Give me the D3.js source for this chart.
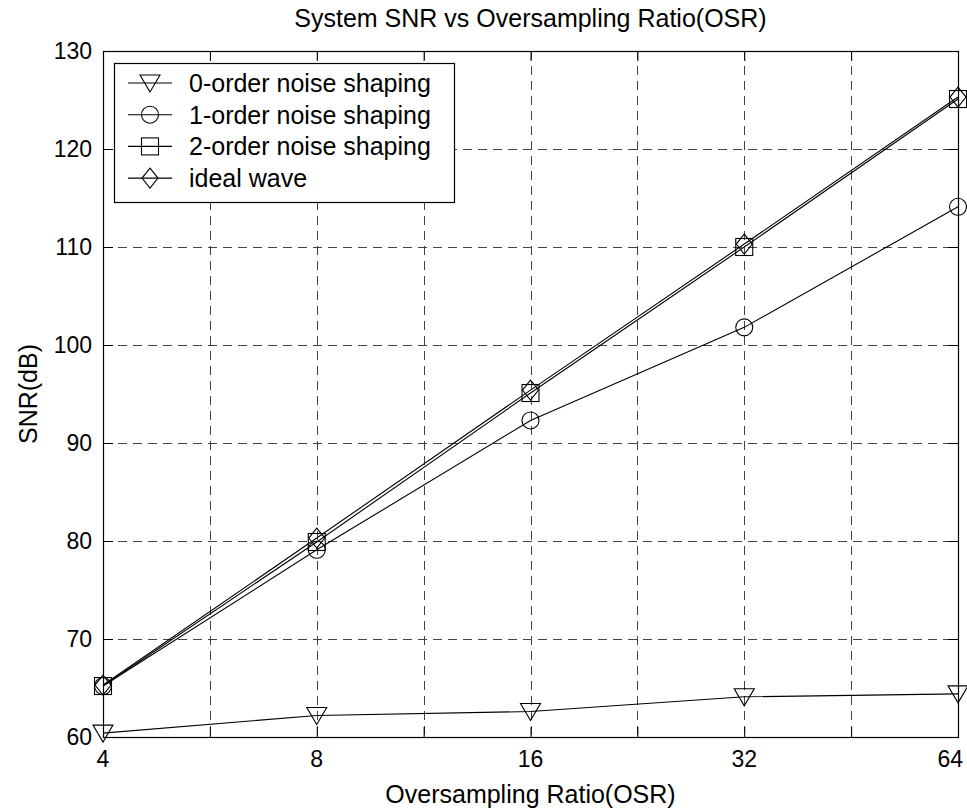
<!DOCTYPE html>
<html>
<head>
<meta charset="utf-8">
<script src="https://cdn.jsdelivr.net/npm/d3@7"></script>
<style>
  body { margin: 0; background: #fff; }
  text { font-family: "Liberation Sans", Arial, sans-serif; fill: #000; }
</style>
</head>
<body>
<div id="chart"></div>
<script>
// data
const osr = [4, 8, 16, 32, 64];
const order0 = [60.4, 62.2, 62.6, 64.1, 64.4];
const order1 = [65.2, 79.1, 92.3, 101.8, 114.1];
const order2 = [65.2, 79.9, 95.1, 110.0, 125.1];
const ideal = [65.3, 80.3, 95.4, 110.3, 125.3];
const yTicks = [60, 70, 80, 90, 100, 110, 120, 130];
const xLabels = [4, 8, 16, 32, 64];

const series = [
  { name: "0-order noise shaping", values: order0, marker: "tri" },
  { name: "1-order noise shaping", values: order1, marker: "circle" },
  { name: "2-order noise shaping", values: order2, marker: "square" },
  { name: "ideal wave", values: ideal, marker: "diamond" }
];

const W = 967, H = 810;
const pLeft = 103, pRight = 958, pTop = 51, pBottom = 737;

const svg = d3.select("#chart").append("svg")
  .attr("width", W).attr("height", H);

const x = d3.scaleLog().base(2).domain([4, 64]).range([pLeft, pRight]);
const y = d3.scaleLinear().domain([60, 130]).range([pBottom, pTop]);

// half-step ticks (4, 5.66, 8, ...)
const xTicks = d3.range(0, 9).map(i => 4 * Math.pow(2, i / 2));

// grid
const grid = svg.append("g")
  .attr("stroke", "#444").attr("stroke-width", 1)
  .attr("stroke-dasharray", "9,6");
grid.selectAll("line.v").data(xTicks.slice(1, -1)).enter().append("line")
  .attr("x1", d => Math.round(x(d)) + 0.5).attr("x2", d => Math.round(x(d)) + 0.5)
  .attr("y1", pTop).attr("y2", pBottom);
grid.selectAll("line.h").data(yTicks.slice(1, -1)).enter().append("line")
  .attr("y1", d => Math.round(y(d)) + 0.5).attr("y2", d => Math.round(y(d)) + 0.5)
  .attr("x1", pLeft).attr("x2", pRight);

// axes with inward ticks on all four sides
const tl = 10;
svg.append("g").attr("transform", `translate(0,${pBottom})`)
  .call(d3.axisTop(x).tickValues(xTicks).tickSize(tl).tickFormat(""))
  .call(g => g.select(".domain").remove());
svg.append("g").attr("transform", `translate(0,${pTop})`)
  .call(d3.axisBottom(x).tickValues(xTicks).tickSize(tl).tickFormat(""))
  .call(g => g.select(".domain").remove());
svg.append("g").attr("transform", `translate(${pLeft},0)`)
  .call(d3.axisRight(y).tickValues(yTicks).tickSize(tl).tickFormat(""))
  .call(g => g.select(".domain").remove());
svg.append("g").attr("transform", `translate(${pRight},0)`)
  .call(d3.axisLeft(y).tickValues(yTicks).tickSize(tl).tickFormat(""))
  .call(g => g.select(".domain").remove());
svg.selectAll(".tick line").attr("stroke", "#000");

// tick labels (last one kept inside the page edge)
svg.selectAll("text.xl").data(xLabels).enter().append("text")
  .attr("x", d => d === 64 ? 963 : x(d)).attr("y", 767)
  .attr("text-anchor", d => d === 64 ? "end" : "middle").attr("font-size", 23)
  .text(d => d);
svg.selectAll("text.yl").data(yTicks).enter().append("text")
  .attr("x", 92).attr("y", d => y(d))
  .attr("text-anchor", "end").attr("dominant-baseline", "central")
  .attr("font-size", 23)
  .text(d => d);

// frame
svg.append("rect")
  .attr("x", pLeft + 0.5).attr("y", pTop + 0.5)
  .attr("width", pRight - pLeft).attr("height", pBottom - pTop)
  .attr("fill", "none").attr("stroke", "#000").attr("stroke-width", 1.2);

// markers
function drawMarker(g, type, cx, cy) {
  if (type === "tri") {
    g.append("path").attr("d", `M${cx - 10},${cy - 8}L${cx + 10},${cy - 8}L${cx},${cy + 9}Z`);
  } else if (type === "circle") {
    g.append("circle").attr("cx", cx).attr("cy", cy).attr("r", 8.5);
  } else if (type === "square") {
    g.append("rect").attr("x", cx - 8.5).attr("y", cy - 8.5).attr("width", 17).attr("height", 17);
  } else {
    g.append("path").attr("d", `M${cx},${cy - 10}L${cx + 8},${cy}L${cx},${cy + 10}L${cx - 8},${cy}Z`);
  }
}

const line = d3.line().x((d, i) => x(osr[i])).y(d => y(d));
series.forEach(s => {
  const g = svg.append("g").attr("fill", "none").attr("stroke", "#000").attr("stroke-width", 1.1);
  g.append("path").attr("d", line(s.values));
  s.values.forEach((v, i) => drawMarker(g, s.marker, x(osr[i]), y(v)));
});

// legend
const lg = svg.append("g");
lg.append("rect").attr("x", 114.5).attr("y", 63.5).attr("width", 340).attr("height", 139)
  .attr("fill", "#fff").attr("stroke", "#000").attr("stroke-width", 1.2);
series.forEach((s, i) => {
  const cy = 83 + i * 31.7;
  const g = lg.append("g").attr("fill", "none").attr("stroke", "#000").attr("stroke-width", 1.1);
  g.append("line").attr("x1", 128).attr("x2", 172).attr("y1", cy).attr("y2", cy);
  drawMarker(g, s.marker, 150, cy);
  lg.append("text").attr("x", 189).attr("y", cy)
    .attr("dominant-baseline", "central").attr("font-size", 25)
    .text(s.name);
});

// titles
svg.append("text").attr("x", (pLeft + pRight) / 2).attr("y", 27)
  .attr("text-anchor", "middle").attr("font-size", 25)
  .text("System SNR vs Oversampling Ratio(OSR)");
svg.append("text").attr("x", (pLeft + pRight) / 2).attr("y", 803)
  .attr("text-anchor", "middle").attr("font-size", 25)
  .text("Oversampling Ratio(OSR)");
svg.append("text")
  .attr("transform", `translate(37,${(pTop + pBottom) / 2}) rotate(-90)`)
  .attr("text-anchor", "middle").attr("font-size", 25)
  .text("SNR(dB)");
</script>
</body>
</html>
